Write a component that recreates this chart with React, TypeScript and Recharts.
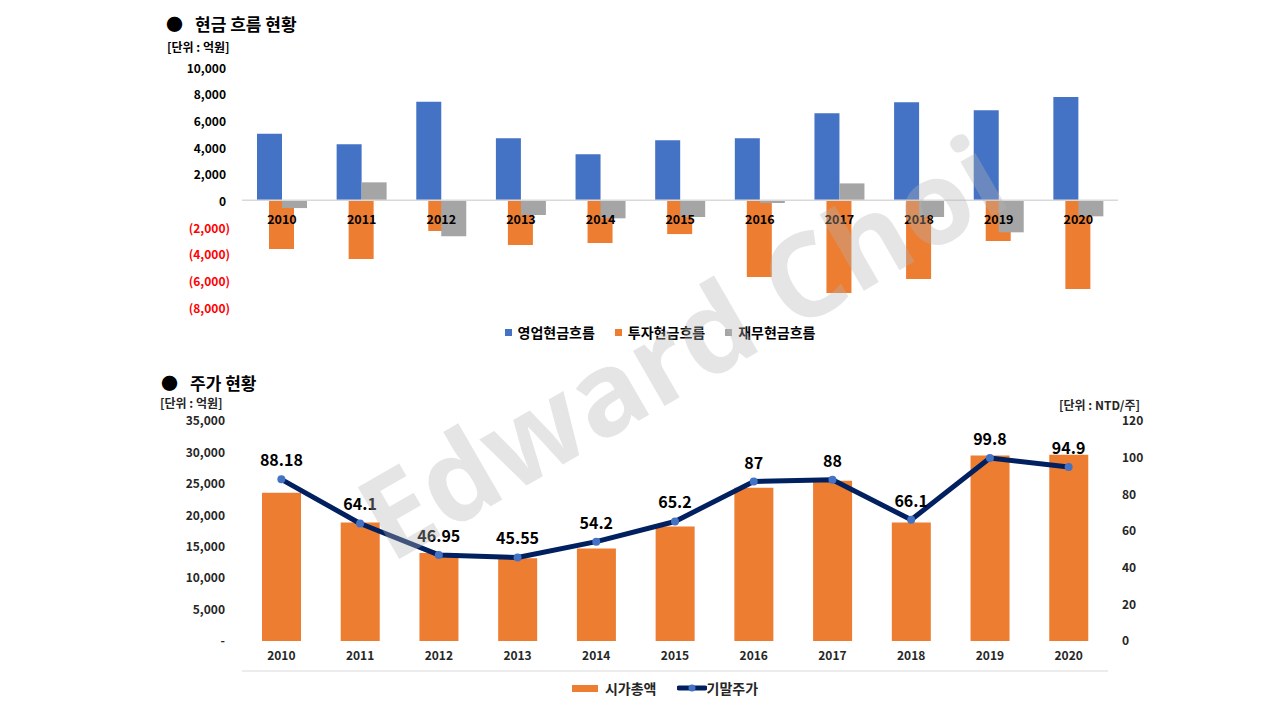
import React from 'react';
import {
  ComposedChart,
  Bar,
  Line,
  XAxis,
  YAxis,
  ReferenceLine,
  LabelList,
  Legend,
} from 'recharts';

const FONT = '"Noto Sans CJK KR", "Noto Sans", sans-serif';

// Years shared by both charts
const years = ['2010', '2011', '2012', '2013', '2014', '2015', '2016', '2017', '2018', '2019', '2020'];

// Cash flow (억원)
const operatingCF = [5000, 4200, 7400, 4650, 3450, 4500, 4650, 6530, 7350, 6750, 7750];
const investingCF = [-3650, -4400, -2300, -3350, -3200, -2530, -5750, -6950, -5900, -3050, -6650];
const financingCF = [-580, 1350, -2700, -1100, -1350, -1250, -200, 1270, -1250, -2400, -1200];
const cfTicks = [-8000, -6000, -4000, -2000, 0, 2000, 4000, 6000, 8000, 10000];

// Market cap (억원) and closing price (NTD/주)
const marketCap = [23600, 18850, 14000, 13150, 14700, 18200, 24400, 25500, 18850, 29500, 29650];
const closingPrice = [88.18, 64.1, 46.95, 45.55, 54.2, 65.2, 87, 88, 66.1, 99.8, 94.9];
const capTicks = [0, 5000, 10000, 15000, 20000, 25000, 30000, 35000];
const priceTicks = [0, 20, 40, 60, 80, 100, 120];

const cfSeries = [
  { key: 'operating', name: '영업현금흐름', color: '#4472C4' },
  { key: 'investing', name: '투자현금흐름', color: '#ED7D31' },
  { key: 'financing', name: '재무현금흐름', color: '#A5A5A5' },
];

const cfData = years.map((year, i) => ({
  year,
  operating: operatingCF[i],
  investing: investingCF[i],
  financing: financingCF[i],
}));

const priceData = years.map((year, i) => ({
  year,
  cap: marketCap[i],
  price: closingPrice[i],
}));

// category boundaries for the tick marks under the bottom chart
const boundaryTicks = [...years.map((_, i) => i), years.length];

const fmt = (v: number) => Math.abs(v).toLocaleString('en-US');

const CfTick = (props: any) => {
  const { x, y, payload } = props;
  const v = payload.value as number;
  const neg = v < 0;
  return (
    <text
      x={neg ? x : x - 4}
      y={y}
      textAnchor="end"
      dominantBaseline="central"
      fontFamily={FONT}
      fontSize={12}
      fontWeight="bold"
      fill={neg ? '#FF0000' : '#000'}
    >
      {neg ? `(${fmt(v)})` : fmt(v)}
    </text>
  );
};

// year label sitting just under the zero line; hung on the 재무 bar,
// whose left edge is the category centre
const YearLabel = (props: any) => {
  const vb = props.viewBox || {};
  const x = props.x ?? vb.x;
  const y = props.y ?? vb.y;
  const h = props.height ?? vb.height ?? 0;
  const idx = props.index ?? 0;
  const top = Math.min(y, y + h);
  const bottom = Math.max(y, y + h);
  const zero = financingCF[idx] >= 0 ? bottom : top;
  return (
    <text
      x={x}
      y={zero + 18}
      textAnchor="middle"
      dominantBaseline="central"
      fontFamily={FONT}
      fontSize={12.5}
      fontWeight="bold"
      fill="#000"
    >
      {years[idx]}
    </text>
  );
};

const CfLegend = () => (
  <div
    style={{
      display: 'flex',
      justifyContent: 'center',
      gap: 20,
      fontFamily: FONT,
      fontSize: 14,
      fontWeight: 'bold',
      color: '#000',
      transform: 'translateX(20px)',
    }}
  >
    {cfSeries.map((s) => (
      <div key={s.key} style={{ display: 'flex', alignItems: 'center' }}>
        <span style={{ width: 7, height: 7, background: s.color, marginRight: 6 }} />
        {s.name}
      </div>
    ))}
  </div>
);

const PriceLegend = () => (
  <div
    style={{
      display: 'flex',
      justifyContent: 'center',
      alignItems: 'center',
      gap: 20,
      fontFamily: FONT,
      fontSize: 14,
      fontWeight: 'bold',
      color: '#262626',
      transform: 'translateX(25px)',
    }}
  >
    <div style={{ display: 'flex', alignItems: 'center' }}>
      <span style={{ width: 26, height: 7, background: '#ED7D31', marginRight: 7 }} />
      시가총액
    </div>
    <div style={{ display: 'flex', alignItems: 'center' }}>
      <svg width={30} height={10}>
        <line x1={2} y1={5} x2={28} y2={5} stroke="#002060" strokeWidth={5} strokeLinecap="round" />
        <circle cx={15} cy={5} r={3.5} fill="#4472C4" />
      </svg>
      기말주가
    </div>
  </div>
);

const axisTick = { fontFamily: FONT, fontSize: 12, fontWeight: 'bold', fill: '#262626' };

const capFmt = (v: number) => (v === 0 ? '-' : v.toLocaleString('en-US'));

const textBase: React.CSSProperties = {
  position: 'absolute',
  fontFamily: FONT,
  fontWeight: 'bold',
  color: '#000',
  lineHeight: 1,
  whiteSpace: 'nowrap',
};

export default function App() {
  return (
    <div
      style={{
        position: 'absolute',
        left: 0,
        top: 0,
        width: 1280,
        height: 720,
        background: '#fff',
        overflow: 'hidden',
      }}
    >
      {/* cash flow chart */}
      <div style={{ position: 'absolute', left: 0, top: 0 }}>
        <ComposedChart
          width={1280}
          height={350}
          data={cfData}
          margin={{ top: 67, right: 162, bottom: 43, left: 0 }}
          barGap={0}
        >
          <XAxis xAxisId="inv" dataKey="year" hide />
          <XAxis xAxisId="main" dataKey="year" hide />
          <YAxis
            domain={[-8000, 10000]}
            ticks={cfTicks}
            interval={0}
            width={242}
            tickSize={0}
            tickMargin={12}
            axisLine={false}
            tickLine={false}
            tick={<CfTick />}
          />
          <ReferenceLine xAxisId="main" y={0} stroke="#d9d9d9" strokeWidth={1.5} />
          <Bar
            xAxisId="inv"
            dataKey="investing"
            name="투자현금흐름"
            fill="#ED7D31"
            barSize={25}
            isAnimationActive={false}
          />
          <Bar
            xAxisId="main"
            dataKey="operating"
            name="영업현금흐름"
            fill="#4472C4"
            barSize={25}
            isAnimationActive={false}
          />
          <Bar
            xAxisId="main"
            dataKey="financing"
            name="재무현금흐름"
            fill="#A5A5A5"
            barSize={25}
            isAnimationActive={false}
          >
            <LabelList dataKey="year" content={<YearLabel />} />
          </Bar>
          <Legend
            verticalAlign="middle"
            align="center"
            content={<CfLegend />}
            wrapperStyle={{ top: 322, left: 0, width: 1280 }}
          />
        </ComposedChart>
      </div>

      {/* market cap & price chart */}
      <div style={{ position: 'absolute', left: 0, top: 360 }}>
        <ComposedChart
          width={1280}
          height={350}
          data={priceData}
          margin={{ top: 61, right: 0, bottom: 38, left: 0 }}
        >
          <XAxis
            xAxisId="grid"
            type="number"
            domain={[0, years.length]}
            ticks={boundaryTicks}
            allowDataOverflow
            height={1}
            tick={false}
            tickSize={5}
            axisLine={{ stroke: '#d9d9d9' }}
            tickLine={{ stroke: '#d9d9d9' }}
          />
          <XAxis
            xAxisId="cat"
            dataKey="year"
            height={30}
            interval={0}
            axisLine={false}
            tickLine={false}
            tickSize={0}
            tickMargin={10}
            tick={axisTick}
          />
          <YAxis
            yAxisId="left"
            domain={[0, 35000]}
            ticks={capTicks}
            interval={0}
            width={242}
            tickSize={0}
            tickMargin={17}
            axisLine={false}
            tickLine={false}
            tick={axisTick}
            tickFormatter={capFmt}
          />
          <YAxis
            yAxisId="right"
            orientation="right"
            domain={[0, 120]}
            ticks={priceTicks}
            interval={0}
            width={172}
            tickSize={0}
            tickMargin={14}
            axisLine={false}
            tickLine={false}
            tick={axisTick}
          />
          <Bar
            xAxisId="cat"
            yAxisId="left"
            dataKey="cap"
            name="시가총액"
            fill="#ED7D31"
            barSize={39}
            isAnimationActive={false}
          />
          <Line
            xAxisId="cat"
            yAxisId="right"
            type="linear"
            dataKey="price"
            name="기말주가"
            stroke="#002060"
            strokeWidth={5}
            strokeLinejoin="round"
            dot={{ r: 4, fill: '#4472C4', stroke: 'none' }}
            activeDot={false}
            isAnimationActive={false}
          >
            <LabelList
              dataKey="price"
              position="top"
              offset={13}
              style={{ fontFamily: FONT, fontSize: 16, fontWeight: 'bold', fill: '#000' }}
            />
          </Line>
          <Legend
            verticalAlign="middle"
            align="center"
            content={<PriceLegend />}
            wrapperStyle={{ top: 318, left: 0, width: 1280 }}
          />
        </ComposedChart>
      </div>

      {/* titles and unit notes */}
      <div style={{ ...textBase, left: 166, top: 15, fontSize: 17 }}>
        <span style={{ marginRight: 12 }}>●</span>현금 흐름 현황
      </div>
      <div style={{ ...textBase, left: 167, top: 41, fontSize: 12 }}>[단위 : 억원]</div>
      <div style={{ ...textBase, left: 161, top: 374, fontSize: 17 }}>
        <span style={{ marginRight: 12 }}>●</span>주가 현황
      </div>
      <div style={{ ...textBase, left: 160, top: 397, fontSize: 12, color: '#262626' }}>
        [단위 : 억원]
      </div>
      <div style={{ ...textBase, right: 140, top: 399, fontSize: 12, color: '#262626' }}>
        [단위 : NTD/주]
      </div>

      {/* watermark */}
      <div
        style={{
          position: 'absolute',
          left: 680,
          top: 345,
          transform: 'translate(-50%, -50%) rotate(-30deg)',
          fontFamily: '"Open Sans", sans-serif',
          fontWeight: 'bold',
          fontSize: 116,
          color: 'rgba(180, 180, 180, 0.35)',
          whiteSpace: 'nowrap',
          pointerEvents: 'none',
          lineHeight: 1,
        }}
      >
        Edward Choi
      </div>
    </div>
  );
}
